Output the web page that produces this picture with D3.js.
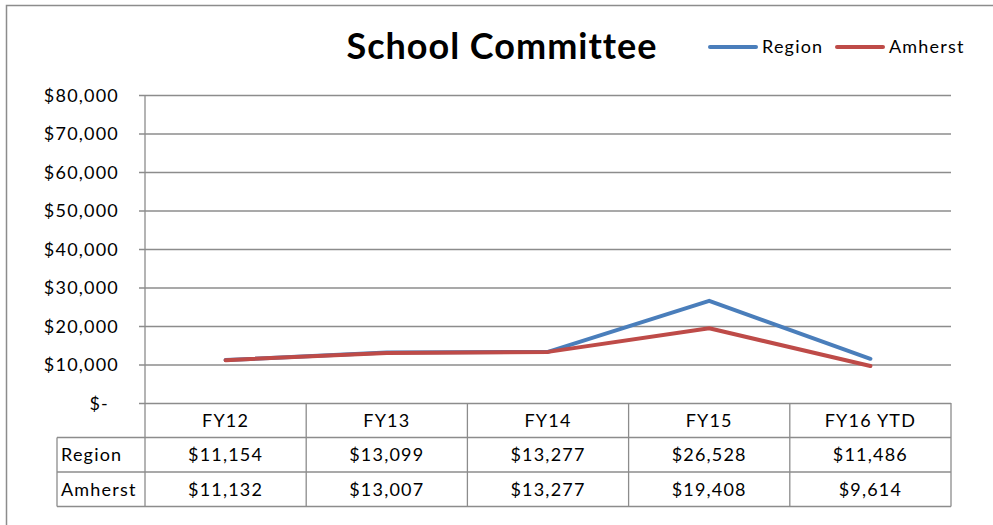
<!DOCTYPE html>
<html>
<head>
<meta charset="utf-8">
<script src="https://cdn.jsdelivr.net/npm/d3@7"></script>
<style>
  body { margin: 0; background: #fff; }
  svg text { font-family: Lato, "Open Sans", sans-serif; fill: #000; letter-spacing: 1.2px; }
</style>
</head>
<body>
<div id="chart"></div>
<script>
// data
var categories = ["FY12", "FY13", "FY14", "FY15", "FY16 YTD"];
var seriesNames = ["Region", "Amherst"];
var regionValues = [11154, 13099, 13277, 26528, 11486];
var amherstValues = [11132, 13007, 13277, 19408, 9614];
var yTicks = [0, 10000, 20000, 30000, 40000, 50000, 60000, 70000, 80000];
var colors = ["#4a7ebb", "#be4b48"];

var W = 993, H = 525;
var plot = {left: 145, right: 951, top: 95, bottom: 403};
var tableLeft = 57, rowH = 34.5;
var fs = "18px";

var svg = d3.select("#chart").append("svg")
    .attr("width", W)
    .attr("height", H);

// outer chart frame (runs off the right / bottom edge)
svg.append("rect")
    .attr("x", 6.5).attr("y", 5.5)
    .attr("width", W + 10).attr("height", H + 10)
    .style("fill", "none")
    .style("stroke", "#8c8c8c")
    .style("stroke-width", 1.5);

var x = d3.scaleBand()
    .domain(categories)
    .range([plot.left, plot.right]);

var y = d3.scaleLinear()
    .domain([0, 80000])
    .range([plot.bottom, plot.top]);

var money = d3.format("$,");

//gridlines + ticks
var yAxis = d3.axisLeft(y)
    .tickValues(yTicks)
    .tickSize(-(plot.right - plot.left))
    .tickPadding(0)
    .tickFormat(function(d){ return d === 0 ? "$-" : money(d); });

var gy = svg.append("g")
    .attr("transform", "translate(" + plot.left + ",0)")
    .call(yAxis);
gy.select(".domain").remove();
gy.selectAll(".tick line")
    .attr("x1", -6)
    .style("stroke", "#8c8c8c")
    .style("stroke-width", 1.3);
gy.selectAll(".tick text")
    .attr("x", -26)
    .attr("dy", "0.35em")
    .style("font-size", fs)
    .style("font-family", "Lato, sans-serif")
    .attr("dx", function(d){ return d === 0 ? -10 : 0; });

// vertical axis line
svg.append("line")
    .attr("x1", plot.left).attr("x2", plot.left)
    .attr("y1", plot.top).attr("y2", plot.bottom)
    .style("stroke", "#8c8c8c")
    .style("stroke-width", 1.3);

/////////////// data table ///////////////
var table = svg.append("g").attr("class", "datatable");
var tableBottom = plot.bottom + rowH * 3;
var lineStyle = function(sel){ sel.style("stroke", "#8c8c8c").style("stroke-width", 1.3); };

// vertical dividers at category edges
table.selectAll(".vdiv")
    .data(categories.concat(["end"]))
    .join("line")
    .attr("x1", function(d, i){ return plot.left + i * x.bandwidth(); })
    .attr("x2", function(d, i){ return plot.left + i * x.bandwidth(); })
    .attr("y1", plot.bottom)
    .attr("y2", tableBottom)
    .call(lineStyle);

// row lines
table.selectAll(".hdiv")
    .data([1, 2, 3])
    .join("line")
    .attr("x1", tableLeft)
    .attr("x2", plot.right)
    .attr("y1", function(d){ return plot.bottom + d * rowH; })
    .attr("y2", function(d){ return plot.bottom + d * rowH; })
    .call(lineStyle);

table.append("line")
    .attr("x1", tableLeft).attr("x2", tableLeft)
    .attr("y1", plot.bottom + rowH).attr("y2", tableBottom)
    .call(lineStyle);

// category header
table.selectAll(".cat")
    .data(categories)
    .join("text")
    .attr("x", function(d){ return x(d) + x.bandwidth() / 2; })
    .attr("y", plot.bottom + rowH / 2)
    .attr("dy", "0.36em")
    .attr("text-anchor", "middle")
    .style("font-size", fs)
    .text(function(d){ return d; });

var rows = [regionValues, amherstValues];
rows.forEach(function(vals, r){
    var cy = plot.bottom + rowH * (r + 1) + rowH / 2;
    table.append("text")
        .attr("x", tableLeft + 4)
        .attr("y", cy)
        .attr("dy", "0.36em")
        .style("font-size", fs)
        .text(seriesNames[r]);
    table.selectAll(".v" + r)
        .data(vals)
        .join("text")
        .attr("x", function(d, i){ return x(categories[i]) + x.bandwidth() / 2; })
        .attr("y", cy)
        .attr("dy", "0.36em")
        .attr("text-anchor", "middle")
        .style("font-size", fs)
        .text(function(d){ return money(d); });
});

/////////////// lines ///////////////
var line = d3.line()
    .x(function(d, i){ return x(categories[i]) + x.bandwidth() / 2; })
    .y(function(d){ return y(d); });

svg.selectAll(".series")
    .data(rows)
    .join("path")
    .attr("class", "series")
    .attr("d", line)
    .style("fill", "none")
    .style("stroke", function(d, i){ return colors[i]; })
    .style("stroke-width", 4)
    .style("stroke-linejoin", "round")
    .style("stroke-linecap", "round");

/////////////// title + legend ///////////////
svg.append("text")
    .attr("x", 502)
    .attr("y", 59)
    .attr("text-anchor", "middle")
    .style("font-size", "36px")
    .style("font-weight", "bold")
    .style("letter-spacing", "1px")
    .text("School Committee");

var legendX = [709, 836];
var legend = svg.selectAll(".legend")
    .data(seriesNames)
    .join("g")
    .attr("class", "legend")
    .attr("transform", function(d, i){ return "translate(" + legendX[i] + ",47)"; });
legend.append("line")
    .attr("x1", 1).attr("x2", 47)
    .style("stroke", function(d, i){ return colors[i]; })
    .style("stroke-width", 4)
    .style("stroke-linecap", "round");
legend.append("text")
    .attr("x", 53)
    .attr("dy", "0.36em")
    .style("font-size", fs)
    .text(function(d){ return d; });
</script>
</body>
</html>
